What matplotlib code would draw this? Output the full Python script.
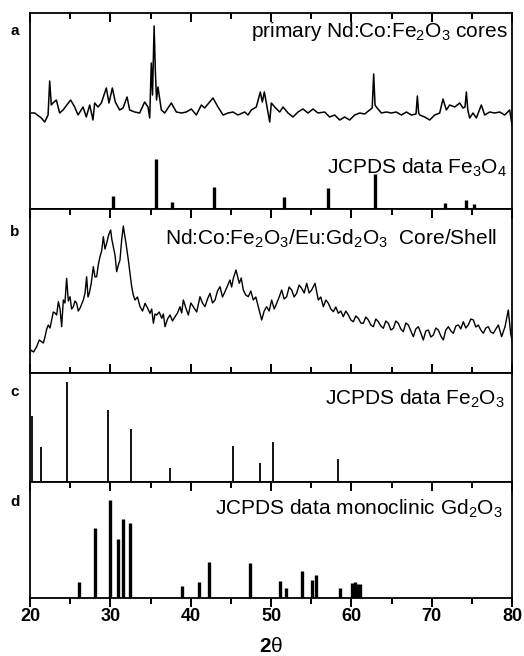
import matplotlib
matplotlib.use("Agg")
import matplotlib.pyplot as plt
from matplotlib.patches import Rectangle

plt.rcParams['font.family'] = ['Liberation Sans', 'DejaVu Sans']
plt.rcParams['mathtext.fontset'] = 'custom'
plt.rcParams['mathtext.rm'] = 'Liberation Sans'
plt.rcParams['mathtext.it'] = 'Liberation Sans:italic'
plt.rcParams['mathtext.bf'] = 'Liberation Sans:bold'

# --- (a) primary Nd:Co:Fe2O3 cores, XRD pattern (a.u.) ---
a_theta = [20.17, 20.58, 21.41, 21.83, 22.25, 22.45, 22.65, 22.86, 23.28, 23.69, 24.11,
           25.06, 25.56, 25.98, 26.60, 27.01, 27.43, 27.84, 28.05, 28.47, 28.88,
           29.50, 29.83, 30.25, 30.62, 31.16, 31.58, 32.08, 32.41, 33.03, 33.65,
           34.27, 34.69, 34.90, 35.10, 35.25, 35.45, 35.60, 35.75, 35.93, 36.35,
           36.77, 37.59, 38.22, 38.84, 39.46, 40.08, 40.71, 41.33, 41.74, 42.78,
           43.40, 44.03, 44.65, 45.27, 45.89, 46.72, 47.14, 47.55, 48.17, 48.67,
           48.92, 49.17, 49.42, 49.84, 50.04, 50.46, 51.08, 51.50, 52.12, 52.74,
           53.36, 53.98, 54.61, 55.23, 55.85, 56.68, 57.30, 57.93, 58.55, 59.17,
           59.79, 60.42, 61.04, 61.66, 62.28, 62.60, 62.78, 62.95, 63.11, 63.74,
           64.36, 64.98, 65.60, 66.23, 66.85, 67.47, 68.05, 68.22, 68.38, 68.51,
           69.13, 69.75, 70.38, 71.00, 71.41, 71.83, 72.24, 72.87, 73.49, 73.90,
           74.15, 74.32, 74.50, 74.73, 75.15, 75.56, 76.18, 76.60, 77.22, 77.84,
           78.47, 79.09, 79.71, 80.00]
a_int = [170, 170, 120, 80, 150, 490, 250, 270, 300, 170, 200,
         300, 230, 150, 230, 130, 250, 100, 270, 230, 270,
         420, 270, 420, 280, 200, 220, 330, 200, 180, 170,
         280, 230, 120, 670, 350, 1040, 600, 300, 430, 200,
         170, 270, 180, 170, 180, 210, 150, 250, 220, 320,
         230, 150, 170, 180, 150, 180, 150, 200, 230, 380,
         280, 380, 270, 80, 270, 230, 180, 230, 170, 130,
         180, 210, 170, 210, 170, 180, 130, 150, 100, 130,
         100, 150, 170, 160, 200, 220, 560, 250, 230, 170,
         180, 170, 180, 150, 180, 150, 160, 340, 170, 150,
         130, 100, 150, 170, 310, 200, 250, 230, 270, 220,
         230, 380, 200, 120, 170, 120, 250, 150, 180, 170,
         180, 150, 200, 50]

# JCPDS Fe3O4 reference lines (relative intensity)
fe3o4_theta = [30.29, 35.65, 37.63, 42.95, 51.62, 57.14, 62.95, 71.66, 74.24, 75.27]
fe3o4_rel = [27, 100, 15, 44, 25, 42, 70, 13, 18, 11]

# --- (b) Nd:Co:Fe2O3/Eu:Gd2O3 core/shell, XRD pattern (a.u.) ---
b_theta = [20.00, 20.10, 20.45, 20.83, 21.15, 21.45, 21.66, 21.87, 22.08, 22.28,
           22.49, 22.70, 22.90, 23.11, 23.32, 23.53, 23.74, 23.94, 24.15, 24.35,
           24.56, 24.77, 24.98, 25.18, 25.39, 25.60, 25.81, 26.01, 26.22, 26.43,
           26.64, 26.85, 27.05, 27.22, 27.38, 27.63, 27.88, 28.09, 28.30, 28.50,
           28.71, 28.92, 29.13, 29.33, 29.54, 29.79, 30.04, 30.20, 30.37, 30.58,
           30.79, 31.00, 31.20, 31.41, 31.62, 31.78, 31.95, 32.24, 32.45, 32.66,
           32.86, 33.07, 33.38, 33.70, 34.01, 34.32, 34.63, 34.94, 35.15, 35.36,
           35.56, 35.77, 36.08, 36.40, 36.60, 36.81, 37.12, 37.43, 37.74, 38.05,
           38.36, 38.67, 38.88, 39.09, 39.40, 39.71, 40.02, 40.33, 40.75, 41.16,
           41.47, 41.78, 42.10, 42.41, 42.72, 43.03, 43.34, 43.65, 43.96, 44.27,
           44.58, 44.89, 45.10, 45.31, 45.64, 46.05, 46.30, 46.55, 46.86, 47.17,
           47.48, 47.80, 48.11, 48.42, 48.63, 48.84, 49.15, 49.46, 49.77, 50.08,
           50.40, 50.71, 51.02, 51.33, 51.64, 51.95, 52.26, 52.57, 52.88, 53.19,
           53.50, 53.82, 54.13, 54.44, 54.75, 55.06, 55.48, 55.89, 56.20, 56.52,
           56.83, 57.14, 57.45, 57.76, 58.07, 58.38, 58.69, 59.00, 59.31, 59.63,
           59.94, 60.25, 60.56, 60.87, 61.18, 61.49, 61.80, 62.12, 62.43, 62.74,
           63.05, 63.36, 63.67, 63.98, 64.29, 64.61, 64.92, 65.23, 65.54, 65.85,
           66.16, 66.47, 66.78, 67.10, 67.41, 67.72, 68.03, 68.34, 68.65, 68.96,
           69.27, 69.59, 69.90, 70.21, 70.52, 70.83, 71.14, 71.45, 71.76, 72.08,
           72.39, 72.70, 73.01, 73.32, 73.63, 73.94, 74.25, 74.56, 74.87, 75.19,
           75.50, 75.81, 76.12, 76.43, 76.74, 77.05, 77.36, 77.68, 77.99, 78.30,
           78.71, 79.13, 79.54, 79.83, 80.00]
b_int = [190, 230, 210, 263, 330, 313, 300, 363, 440, 480,
         450, 530, 610, 600, 580, 713, 640, 463, 730, 700,
         947, 720, 763, 640, 663, 720, 697, 620, 647, 690,
         730, 800, 963, 760, 797, 900, 1063, 960, 963, 1080,
         1163, 1220, 1363, 1240, 1297, 1380, 1430, 1330, 1263, 1180,
         1013, 1080, 1130, 1330, 1470, 1380, 1297, 1130, 1000, 863,
         780, 730, 760, 663, 620, 697, 650, 597, 640, 497,
         590, 580, 610, 547, 590, 463, 540, 580, 520, 563,
         600, 663, 600, 730, 650, 580, 700, 663, 610, 763,
         700, 663, 740, 797, 700, 730, 820, 863, 760, 813,
         870, 930, 860, 947, 1030, 897, 950, 830, 780, 763,
         820, 730, 760, 663, 600, 530, 620, 663, 620, 730,
         640, 697, 760, 830, 740, 763, 860, 830, 760, 797,
         880, 847, 800, 897, 800, 830, 897, 730, 760, 663,
         730, 697, 640, 613, 660, 597, 620, 563, 620, 580,
         530, 513, 570, 547, 500, 497, 560, 530, 480, 463,
         540, 513, 470, 447, 520, 497, 430, 447, 520, 497,
         440, 413, 500, 480, 420, 363, 440, 463, 400, 330,
         420, 430, 360, 380, 450, 430, 370, 330, 430, 463,
         420, 397, 470, 480, 440, 513, 450, 480, 540, 530,
         460, 480, 430, 397, 450, 463, 410, 397, 440, 480,
         363, 463, 630, 397, 330]

# --- (c) JCPDS Fe2O3 reference lines ---
fe2o3_theta = [20.29, 21.33, 24.65, 29.67, 32.57, 37.43, 45.23, 48.63, 50.29, 58.30]
fe2o3_rel = [66, 35, 100, 72, 53, 14, 36, 19, 40, 23]

# --- (d) JCPDS monoclinic Gd2O3 reference lines ---
gd2o3_theta = [26.10, 28.09, 30.00, 31.00, 31.58, 32.41, 38.92, 41.04, 42.28, 47.39,
               51.08, 51.91, 53.86, 55.15, 55.64, 58.63, 60.04, 60.42, 60.75, 61.08]
gd2o3_rel = [16, 71, 100, 60, 81, 77, 12, 16, 37, 36,
             17, 10, 28, 18, 23, 10, 15, 16, 14, 14]

panel_labels = ['a', 'b', 'c', 'd']
major_x = [20, 30, 40, 50, 60, 70, 80]
minor_x = [25, 35, 45, 55, 65, 75]

W, H = 524, 656
fig = plt.figure(figsize=(W / 100, H / 100), dpi=100)


def panel(top, bottom):
    return fig.add_axes([30 / W, 1 - bottom / H, 482 / W, (bottom - top) / H])


# tick marks as thin filled rectangles in figure pixels
def ticks(top_px, bottom_px, side, outward=False):
    for xs, L in ((major_x, 9), (minor_x, 6)):
        for x in xs:
            xp = 30 + (x - 20) * 482 / 60
            if side == 'top':
                y_top = top_px + L
            elif outward:
                y_top = bottom_px + L
            else:
                y_top = bottom_px
            fig.add_artist(Rectangle(((xp - 1.0) / W, 1 - y_top / H), 2.0 / W, L / H,
                                     transform=fig.transFigure, facecolor='black',
                                     edgecolor='none', zorder=10))


ax_a = panel(13, 209)
ax_b = panel(209, 373)
ax_c = panel(373, 482)
ax_d = panel(482, 598)

for ax in [ax_a, ax_b, ax_c, ax_d]:
    ax.set_xlim(20, 80)
    ax.set_yticks([])
    ax.set_xticks([])
    for s in ax.spines.values():
        s.set_linewidth(1.3)

tsize = 15

# panel a: pattern + Fe3O4 sticks (top ticks only)
ax_a.plot(a_theta, [79 + v / 10 for v in a_int], color='black', lw=1.1)
ax_a.vlines(fe3o4_theta, 0, [r * 0.5 for r in fe3o4_rel], color='black', lw=2.4)
ax_a.set_ylim(0, 196)
ticks(13, 209, 'top')
ax_a.text(0.992, 0.878, r'primary Nd:Co:Fe$_2$O$_3$ cores', transform=ax_a.transAxes,
          ha='right', va='baseline', fontsize=tsize)
ax_a.text(0.990, 0.179, r'JCPDS data Fe$_3$O$_4$', transform=ax_a.transAxes,
          ha='right', va='baseline', fontsize=tsize)

# panel b: core/shell pattern (ticks top and bottom)
ax_b.plot(b_theta, b_int, color='black', lw=1.0)
ax_b.set_ylim(0, 1640)
ticks(209, 373, 'top')
ticks(209, 373, 'bottom')
ax_b.text(0.969, 0.780, r'Nd:Co:Fe$_2$O$_3$/Eu:Gd$_2$O$_3$  Core/Shell', transform=ax_b.transAxes,
          ha='right', va='baseline', fontsize=tsize)

# panel c: Fe2O3 sticks (no ticks)
ax_c.vlines(fe2o3_theta, 0, fe2o3_rel, color='black', lw=1.3)
ax_c.set_ylim(0, 109)
ax_c.text(0.985, 0.706, r'JCPDS data Fe$_2$O$_3$', transform=ax_c.transAxes,
          ha='right', va='baseline', fontsize=tsize)

# panel d: Gd2O3 sticks, labelled axis
ax_d.vlines(gd2o3_theta, 0, [r * 0.98 for r in gd2o3_rel], color='black', lw=2.4)
ax_d.set_ylim(0, 116)
ticks(482, 598, 'top')
ticks(482, 598, 'bottom', outward=True)
ax_d.text(0.981, 0.716, r'JCPDS data monoclinic Gd$_2$O$_3$', transform=ax_d.transAxes,
          ha='right', va='baseline', fontsize=tsize)
ax_d.set_xticks(major_x)
ax_d.set_xticklabels([str(t) for t in major_x], fontsize=13, fontweight='bold')
ax_d.tick_params(axis='x', which='major', length=0, pad=7)
fig.text(271 / W, 1 - 647 / H, r'$\mathbf{2}\mathrm{\theta}$', ha='center', va='center',
         fontsize=15)

label_y = [31, 232, 392, 502]
for lab, yp in zip(panel_labels, label_y):
    fig.text(15 / W, 1 - yp / H, lab, ha='center', va='center',
             fontsize=11, fontweight='bold')

fig.savefig('out.png', dpi=100)
